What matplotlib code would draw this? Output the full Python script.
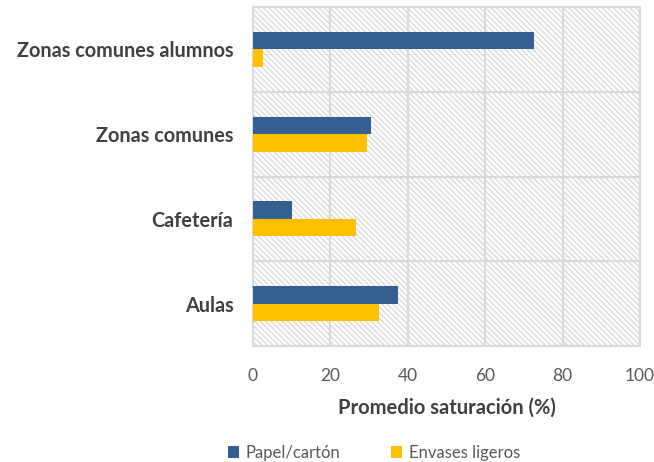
import matplotlib
matplotlib.use("Agg")
import matplotlib.pyplot as plt
import numpy as np
from matplotlib.patches import Rectangle, Patch

categories = ["Zonas comunes alumnos", "Zonas comunes", "Cafetería", "Aulas"]
papel = [72.5, 30.5, 10.0, 37.5]
envases = [2.5, 29.5, 26.5, 32.5]
series_names = ["Papel/cartón", "Envases ligeros"]
xticks = [0, 20, 40, 60, 80, 100]

blue = "#355F91"
yellow = "#FFC000"
grid_c = "#D9D9D9"

plt.rcParams['font.family'] = ['Lato', 'DejaVu Sans']
plt.rcParams['hatch.linewidth'] = 1.0
plt.rcParams['hatch.color'] = '#DADADA'

fig = plt.figure(figsize=(6.54, 4.62), dpi=100)
ax = fig.add_axes([253/654, 1-346/462, (640-253)/654, (346-7)/462])

n = len(categories)
y = np.arange(n)[::-1].astype(float)  # top category at top
h = 0.207

# hatched background
bg = Rectangle((0, 0), 1, 1, transform=ax.transAxes, facecolor='white',
               edgecolor='#DADADA', hatch='\\\\\\\\\\\\', linewidth=0, zorder=0)
ax.add_patch(bg)

ax.barh(y + h/2, papel, height=h, color=blue, zorder=3, label=series_names[0])
ax.barh(y - h/2, envases, height=h, color=yellow, zorder=3, label=series_names[1])

ax.set_xlim(0, 100)
ax.set_ylim(-0.5, n - 0.5)
ax.set_xticks(xticks)
ax.set_xticklabels([str(v) for v in xticks], fontsize=12.5, color='#595959')
ax.set_yticks(y)
ax.set_yticklabels(categories, fontsize=14.3, fontweight='bold', color='#404040')
ax.tick_params(axis='y', length=0, pad=14)
ax.tick_params(axis='x', length=0, pad=15.5)

for v in xticks:
    ax.axvline(v, color=grid_c, lw=1.5, zorder=1)
for b in np.arange(-0.5, n, 1.0):
    ax.axhline(b, color=grid_c, lw=1.5, zorder=1)

for s in ax.spines.values():
    s.set_color(grid_c)
    s.set_linewidth(1.5)

ax.set_xlabel("Promedio saturación (%)", fontsize=14.5, fontweight='bold',
              color='#404040', labelpad=10)

handles = [Patch(facecolor=blue), Patch(facecolor=yellow)]
fig.legend(handles, series_names, loc='lower center', bbox_to_anchor=(0.572, -0.03),
           ncol=2, frameon=False, fontsize=12, labelcolor='#595959',
           handlelength=0.65, handleheight=0.65, handletextpad=0.4, columnspacing=3.05)

fig.savefig("out.png", dpi=100)
